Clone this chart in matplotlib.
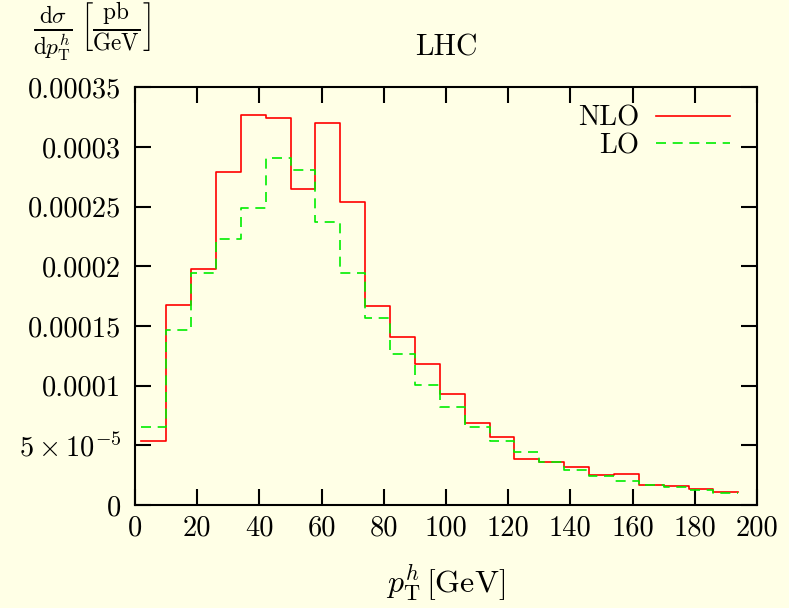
import numpy as np
import matplotlib
matplotlib.use('Agg')
import matplotlib.pyplot as plt

# pT^h histogram, 8 GeV bins from 2 to 194 GeV
bin_edges = np.arange(2, 195, 8)
nlo = [5.33e-5, 1.675e-4, 1.98e-4, 2.79e-4, 3.264e-4, 3.24e-4, 2.65e-4, 3.20e-4,
       2.54e-4, 1.667e-4, 1.404e-4, 1.178e-4, 9.27e-5, 6.84e-5, 5.67e-5, 3.85e-5,
       3.6e-5, 3.21e-5, 2.54e-5, 2.62e-5, 1.65e-5, 1.62e-5, 1.31e-5, 1.12e-5]
lo = [6.5e-5, 1.466e-4, 1.946e-4, 2.225e-4, 2.49e-4, 2.91e-4, 2.806e-4, 2.37e-4,
      1.946e-4, 1.569e-4, 1.267e-4, 1.002e-4, 8.21e-5, 6.56e-5, 5.36e-5, 4.41e-5,
      3.6e-5, 2.93e-5, 2.46e-5, 2.04e-5, 1.70e-5, 1.48e-5, 1.23e-5, 0.98e-5]

xticks = np.arange(0, 201, 20)
yticks = [0, 5e-5, 1e-4, 1.5e-4, 2e-4, 2.5e-4, 3e-4, 3.5e-4]
ytick_labels = ['0', r'$5\times10^{-5}$', '0.0001', '0.00015', '0.0002',
                '0.00025', '0.0003', '0.00035']

plt.rcParams['font.family'] = 'serif'
plt.rcParams['font.serif'] = ['cmr10']
plt.rcParams['mathtext.fontset'] = 'cm'
plt.rcParams['axes.unicode_minus'] = False

bg = '#ffffe6'
fs = 20.5
fig = plt.figure(figsize=(7.89, 6.08), dpi=100, facecolor=bg)
ax = fig.add_axes([135/789, 1-505/608, (757-135)/789, (505-87.3)/608])
ax.set_facecolor(bg)


def steps(vals):
    return np.append(vals, vals[-1])


ax.step(bin_edges, steps(nlo), where='post', color='#ff0000', lw=1.2, label='NLO')
ax.step(bin_edges, steps(lo), where='post', color='#00ee00', lw=1.2,
        dashes=(6, 4), label='LO')

ax.set_xlim(0, 200)
ax.set_ylim(0, 3.5e-4)
ax.set_xticks(xticks)
ax.set_xticklabels([str(v) for v in xticks])
ax.set_yticks(yticks)
ax.set_yticklabels(ytick_labels)
ax.tick_params(direction='in', length=11.5, width=1.5, labelsize=fs,
               top=True, right=True)
ax.tick_params(axis='x', pad=7)
ax.tick_params(axis='y', pad=10)
for s in ax.spines.values():
    s.set_linewidth(1.5)

leg = ax.legend(loc='upper right', bbox_to_anchor=(0.9566, 0.957), frameon=False,
                markerfirst=False, fontsize=fs, handlelength=2.6,
                handletextpad=0.6, labelspacing=0.05, borderpad=0, borderaxespad=0)

fig.text(446/789, 1-48/608, 'LHC', ha='center', va='center', fontsize=21.5)
fig.text(92/789, 1-32/608,
         r'$\frac{\mathrm{d}\sigma}{\mathrm{d}p_\mathrm{T}^h}\,'
         r'\left[\frac{\mathrm{pb}}{\mathrm{GeV}}\right]$',
         ha='center', va='center', fontsize=24)
fig.text(446/789, 1-583/608, r'$p_\mathrm{T}^h\,[\mathrm{GeV}]$',
         ha='center', va='center', fontsize=23)

fig.savefig('out.png', dpi=100, facecolor=bg)
